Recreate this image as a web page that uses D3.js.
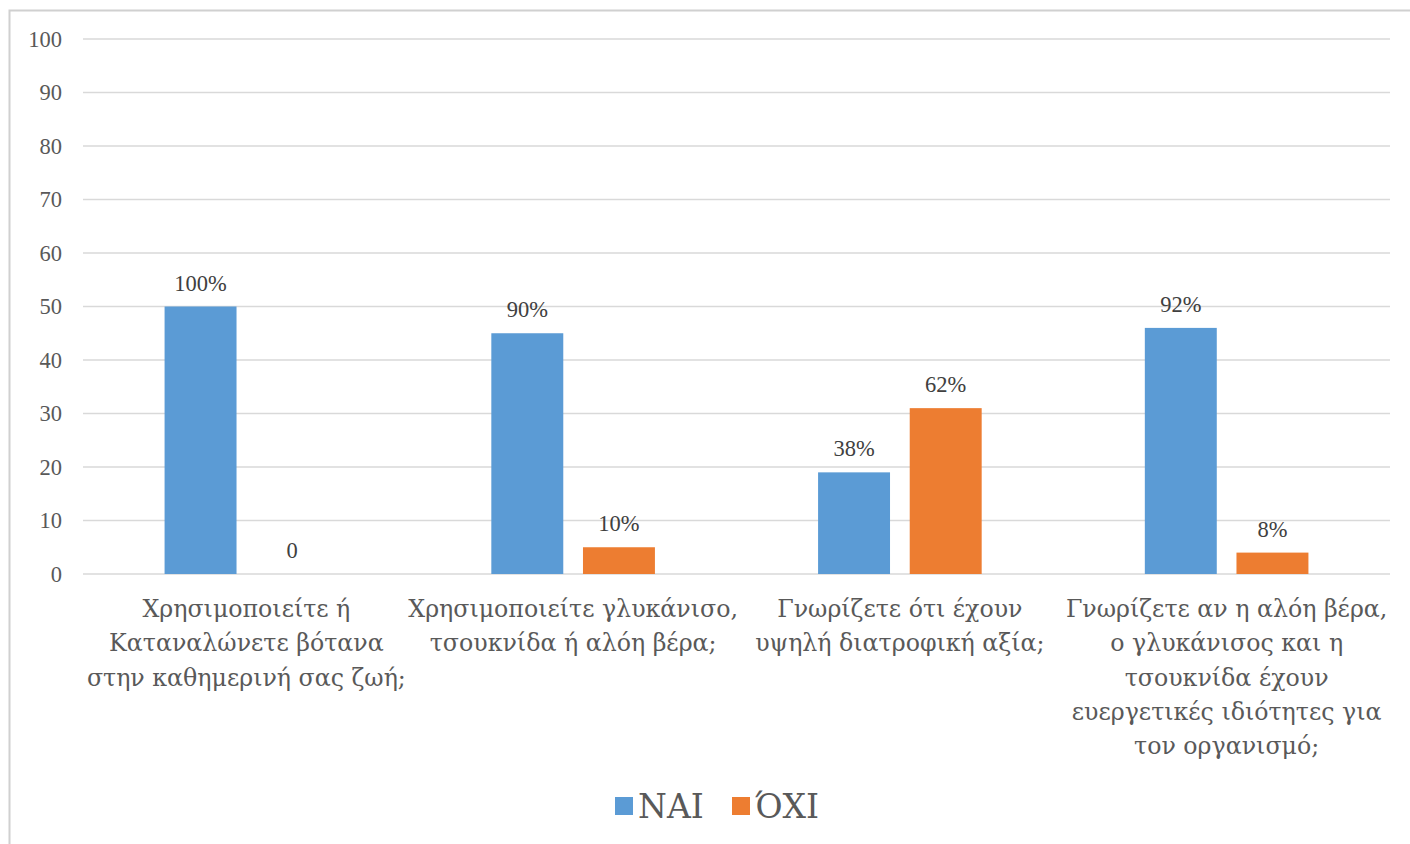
<!DOCTYPE html>
<html>
<head>
<meta charset="utf-8">
<script src="https://cdn.jsdelivr.net/npm/d3@7"></script>
<style>
  body { margin: 0; background: #fff; }
  svg { display: block; font-family: "Liberation Serif", "DejaVu Serif", serif; }
</style>
</head>
<body>
<svg id="chart"></svg>
<script>
// Categories (pre-wrapped as in the original)
let categories = [
  ['Χρησιμοποιείτε ή', 'Καταναλώνετε βότανα', 'στην καθημερινή σας ζωή;'],
  ['Χρησιμοποιείτε γλυκάνισο,', 'τσουκνίδα ή αλόη βέρα;'],
  ['Γνωρίζετε ότι έχουν', 'υψηλή διατροφική αξία;'],
  ['Γνωρίζετε αν η αλόη βέρα,', 'ο γλυκάνισος και η', 'τσουκνίδα έχουν', 'ευεργετικές ιδιότητες για', 'τον οργανισμό;']
]
let seriesNames = ['ΝΑΙ', 'ΌΧΙ']
let yesValues = [50, 45, 19, 46]
let noValues = [0, 5, 31, 4]
let yesLabels = ['100%', '90%', '38%', '92%']
let noLabels = ['0', '10%', '62%', '8%']
let yTicks = [0, 10, 20, 30, 40, 50, 60, 70, 80, 90, 100]

let colors = ['#5B9BD5', '#ED7D31']

let W = 1410, H = 844

let svg = d3.select('#chart').attr('width', W).attr('height', H)

// outer chart border
svg.append('rect')
  .attr('x', 9.5).attr('y', 10.5)
  .attr('width', W + 20).attr('height', H + 20)
  .attr('fill', 'none').attr('stroke', '#D0D0D0').attr('stroke-width', 2)

let x = d3.scaleBand()
  .domain(d3.range(categories.length))
  .range([83, 1390])

let x1 = d3.scaleBand()
  .domain([0, 1])
  .range([0, x.bandwidth()])
  .paddingInner(0.215)
  .paddingOuter(0.89)

let y = d3.scaleLinear()
  .domain([0, 100])
  .range([574, 39])

// gridlines
svg.append('g')
  .selectAll('line')
  .data(yTicks)
  .enter()
  .append('line')
  .attr('x1', 83).attr('x2', 1390)
  .attr('y1', d => y(d)).attr('y2', d => y(d))
  .attr('stroke', '#D9D9D9').attr('stroke-width', 1.3)

// y axis labels
let yAxis = svg.append('g')
  .attr('transform', 'translate(70, 0)')
  .call(d3.axisLeft(y).tickValues(yTicks).tickSize(0).tickPadding(8))
yAxis.select('.domain').remove()
yAxis.selectAll('text')
  .attr('fill', '#595959')
  .style('font-size', '22.5px')
  .style('font-family', '"Liberation Serif", "DejaVu Serif", serif')

// bars
let rows = categories.map((c, i) => ({
  i: i,
  vals: [yesValues[i], noValues[i]],
  labels: [yesLabels[i], noLabels[i]]
}))

let groups = svg.append('g')
  .selectAll('g')
  .data(rows)
  .enter()
  .append('g')
  .attr('transform', d => `translate(${x(d.i)}, 0)`)

groups.selectAll('rect')
  .data(d => d.vals.map((v, s) => ({s: s, v: v})))
  .enter()
  .append('rect')
  .attr('x', d => x1(d.s))
  .attr('width', x1.bandwidth())
  .attr('y', d => y(d.v))
  .attr('height', d => y(0) - y(d.v))
  .attr('fill', d => colors[d.s])

groups.selectAll('text')
  .data(d => d.vals.map((v, s) => ({s: s, v: v, label: d.labels[s]})))
  .enter()
  .append('text')
  .attr('x', d => x1(d.s) + x1.bandwidth() / 2)
  .attr('y', d => y(d.v) - 16)
  .attr('text-anchor', 'middle')
  .attr('fill', '#404040')
  .style('font-size', '22.5px')
  .text(d => d.label)

// category labels
let catG = svg.append('g')
  .selectAll('text')
  .data(categories)
  .enter()
  .append('text')
  .attr('text-anchor', 'middle')
  .attr('fill', '#595959')
  .style('font-size', '23.7px')
  .style('font-family', '"DejaVu Serif", serif')
  .attr('transform', (d, i) => `translate(${x(i) + x.bandwidth() / 2}, 617)`)

catG.selectAll('tspan')
  .data(d => d)
  .enter()
  .append('tspan')
  .attr('x', 0)
  .attr('y', (d, i) => i * 34.3)
  .text(d => d)

// legend
let legendX = [615, 732]
let legend = svg.append('g')
  .selectAll('g')
  .data(seriesNames)
  .enter()
  .append('g')
  .attr('transform', (d, i) => `translate(${legendX[i]}, 797)`)

legend.append('rect')
  .attr('width', 18).attr('height', 18)
  .attr('fill', (d, i) => colors[i])

legend.append('text')
  .attr('x', 23).attr('y', 21)
  .attr('fill', '#595959')
  .style('font-size', '33px')
  .style('font-family', '"DejaVu Serif", serif')
  .text(d => d)
</script>
</body>
</html>
